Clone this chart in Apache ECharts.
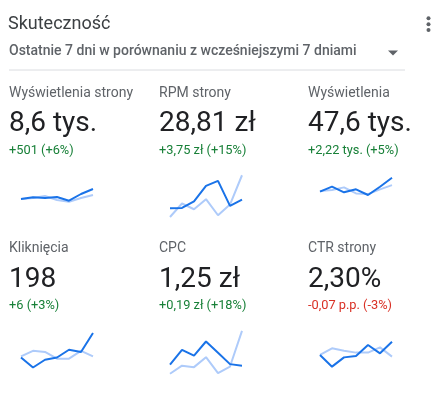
<!DOCTYPE html>
<html>
<head>
<meta charset="utf-8">
<script src="https://cdn.jsdelivr.net/npm/echarts@6/dist/echarts.min.js"></script>
<style>
html,body{margin:0;padding:0;background:#fff;}
#c{width:442px;height:394px;}
</style>
</head>
<body>
<div id="c"></div>
<script>
// ---- data ----
const days = ['1', '2', '3', '4', '5', '6', '7'];
const metricNames = ['Wyświetlenia strony', 'RPM strony', 'Wyświetlenia', 'Kliknięcia', 'CPC', 'CTR strony'];
const metricValues = ['8,6 tys.', '28,81 zł', '47,6 tys.', '198', '1,25 zł', '2,30%'];
const metricChanges = ['+501 (+6%)', '+3,75 zł (+15%)', '+2,22 tys. (+5%)', '+6 (+3%)', '+0,19 zł (+18%)', '-0,07 p.p. (-3%)'];
const metricPositive = [true, true, true, true, true, false];

const pageViewsCur = [1126, 1194, 1166, 1206, 1058, 1326, 1526];
const pageViewsPrev = [1126, 1166, 1246, 1086, 1018, 1166, 1286];
const rpmCur = [21.4, 21.6, 26.7, 38.5, 42.3, 23.2, 28.0];
const rpmPrev = [14.7, 25.0, 20.6, 28.3, 16.0, 24.2, 46.6];
const impressionsCur = [6158, 7158, 6038, 6638, 5498, 7158, 8958];
const impressionsPrev = [6281, 6481, 7021, 5821, 5681, 6621, 7481];
const clicksCur = [25, 16, 23, 25, 32, 30, 47];
const clicksPrev = [26, 31, 30, 24, 24, 31, 26];
const cpcCur = [0.97, 1.46, 1.27, 1.74, 1.37, 0.99, 0.94];
const cpcPrev = [0.67, 0.94, 0.89, 1.22, 0.69, 0.91, 2.09];
const ctrCur = [2.24, 1.75, 2.14, 2.20, 2.66, 2.31, 2.80];
const ctrPrev = [2.24, 2.52, 2.42, 2.34, 2.34, 2.56, 2.17];

const currentSeries = [pageViewsCur, rpmCur, impressionsCur, clicksCur, cpcCur, ctrCur];
const previousSeries = [pageViewsPrev, rpmPrev, impressionsPrev, clicksPrev, cpcPrev, ctrPrev];

// ---- layout ----
const colX = [9, 159, 308];
const sparkLeft = [21, 170, 320];
const sparkWidth = 72;
const rowText = [{label: 93.5, value: 124, change: 150.5}, {label: 248, value: 280, change: 306}];
// per chart: grid top, height, y min, y max
const sparkY = [
  {top: 167.15, height: 60, min: 0, max: 2400},
  {top: 170.8, height: 65.4, min: 0, max: 50},
  {top: 162.49, height: 60, min: 0, max: 12000},
  {top: 318.63, height: 66.67, min: 0, max: 60},
  {top: 318.56, height: 75.76, min: 0, max: 2.5},
  {top: 325.0, height: 59.52, min: 1, max: 3.5}
];

const FONT = 'Roboto, "Noto Sans", sans-serif';
const chart = echarts.init(document.getElementById('c'), null, {renderer: 'canvas'});

const grids = [], xAxes = [], yAxes = [], series = [], graphics = [];
for (let i = 0; i < 6; i++) {
  const col = i % 3, row = Math.floor(i / 3);
  grids.push({left: sparkLeft[col], top: sparkY[i].top, width: sparkWidth, height: sparkY[i].height, containLabel: false});
  xAxes.push({type: 'category', gridIndex: i, data: days, boundaryGap: false, show: false});
  yAxes.push({type: 'value', gridIndex: i, min: sparkY[i].min, max: sparkY[i].max, show: false});
  series.push({type: 'line', xAxisIndex: i, yAxisIndex: i, data: previousSeries[i], symbol: 'none', silent: true,
    lineStyle: {color: '#aecbfa', width: 2}, z: 2});
  series.push({type: 'line', xAxisIndex: i, yAxisIndex: i, data: currentSeries[i], symbol: 'none', silent: true,
    lineStyle: {color: '#1a73e8', width: 2}, z: 3});

  const rt = rowText[row];
  graphics.push({type: 'text', style: {text: metricNames[i], x: colX[col], y: rt.label, verticalAlign: 'middle',
    font: '14px ' + FONT, fill: '#5f6368'}});
  graphics.push({type: 'text', style: {text: metricValues[i], x: colX[col], y: rt.value, verticalAlign: 'middle',
    font: '28px ' + FONT, fill: '#202124'}});
  graphics.push({type: 'text', style: {text: metricChanges[i], x: colX[col], y: rt.change, verticalAlign: 'middle',
    font: '12.8px ' + FONT, fill: metricPositive[i] ? '#188038' : '#d93025'}});
}

graphics.push({type: 'text', style: {text: 'Skuteczność', x: 8, y: 24, verticalAlign: 'middle',
  font: '18px ' + FONT, fill: '#3c4043'}});
graphics.push({type: 'text', style: {text: 'Ostatnie 7 dni w porównaniu z wcześniejszymi 7 dniami', x: 9, y: 51.5,
  verticalAlign: 'middle', font: '500 14px ' + FONT, fill: '#5f6368'}});
graphics.push({type: 'polygon', shape: {points: [[388, 50.5], [398, 50.5], [393, 55.5]]}, style: {fill: '#5f6368'}});
graphics.push({type: 'line', shape: {x1: 9, y1: 70, x2: 405, y2: 70}, style: {stroke: '#dadce0', lineWidth: 1}});
[18.3, 24.2, 30].forEach(function (cy) {
  graphics.push({type: 'circle', shape: {cx: 428.5, cy: cy, r: 2}, style: {fill: '#5f6368'}});
});

chart.setOption({
  animation: false,
  grid: grids,
  xAxis: xAxes,
  yAxis: yAxes,
  series: series,
  graphic: graphics
});
</script>
</body>
</html>
